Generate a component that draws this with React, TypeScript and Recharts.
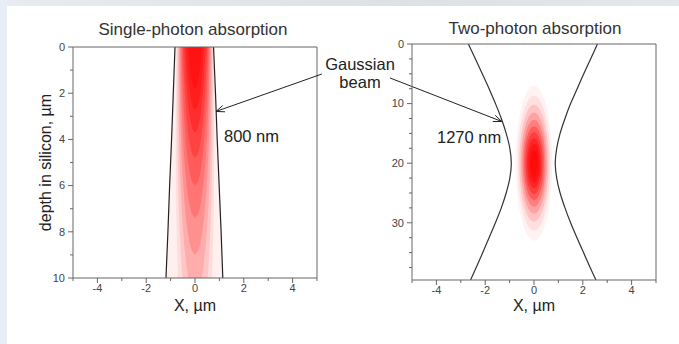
import React from 'react';
import { ComposedChart, XAxis, YAxis, Line, Area, ReferenceArea, ReferenceLine, Label } from 'recharts';

// ---- single-photon panel (800 nm) ----
const spaDepth = [0, 2, 4, 6, 8, 10];
const spaLeftEdge = [-0.82, -0.89, -0.96, -1.04, -1.11, -1.19];
const spaRightEdge = [0.76, 0.84, 0.91, 0.99, 1.07, 1.14];
// intensity contours: half-width at the surface and depth where the contour closes
const spaBandWidth = [0.76, 0.72, 0.68, 0.64, 0.6, 0.55, 0.5, 0.44, 0.37, 0.28];
const spaBandDepth = [16, 13, 10.8, 9, 7.4, 6, 4.8, 3.7, 2.7, 1.8];
const spaWidening = 0.05; // relative beam growth per µm of depth
const spaDepthTicks = [0, 1, 2, 3, 4, 5, 6, 7, 8, 9, 10];
const spaDepthLabels = [0, 2, 4, 6, 8, 10];

// ---- two-photon panel (1270 nm) ----
const tpaDepth = [0, 2.5, 5, 7.5, 10, 12.5, 15, 17.5, 20, 22.5, 25, 27.5, 30, 32.5, 35, 37.5, 39.6];
const tpaLeftEdge = [-2.69, -2.4, -2.12, -1.84, -1.58, -1.34, -1.14, -0.99, -0.93, -0.99, -1.14, -1.34, -1.58, -1.84, -2.1, -2.37, -2.6];
const tpaRightEdge = [2.6, 2.32, 2.04, 1.77, 1.5, 1.27, 1.07, 0.93, 0.87, 0.93, 1.07, 1.27, 1.5, 1.76, 2.03, 2.3, 2.54];
const spotCenterX = 0;
const spotCenterDepth = 20;
const spotHalfWidth = [0.75, 0.67, 0.6, 0.53, 0.47, 0.41, 0.35, 0.29, 0.23, 0.16];
const spotHalfDepth = [13, 11.3, 9.8, 8.5, 7.3, 6.2, 5.2, 4.2, 3.2, 2.2];
const tpaDepthTicks = [0, 2.5, 5, 7.5, 10, 12.5, 15, 17.5, 20, 22.5, 25, 27.5, 30, 32.5, 35, 37.5];
const tpaDepthLabels = [0, 10, 20, 30];

const xTicks = [-5, -4, -3, -2, -1, 0, 1, 2, 3, 4, 5];
const xLabels = [-4, -2, 0, 2, 4];

// arrows: from the "Gaussian beam" text to the beam edges
const spaArrow = [{ x: 5.2, y: 1.17 }, { x: 0.86, y: 2.79 }];
const tpaArrow = [{ x: -5.9, y: 5.7 }, { x: -1.32, y: 13.0 }];

const RED = '#ff0000';
const AXIS = '#666';
const spaOpacity = [0.08, 0.1, 0.13, 0.16, 0.19, 0.22, 0.26, 0.3, 0.34, 0.38];
const spotOpacity = [0.05, 0.08, 0.12, 0.17, 0.22, 0.28, 0.33, 0.38, 0.42, 0.46];
const FONT = 'Arial, "Liberation Sans", sans-serif';

const spaRows = spaDepth.map((z, i) => ({ z, left: spaLeftEdge[i], right: spaRightEdge[i] }));
const tpaRows = tpaDepth.map((z, i) => ({ z, left: tpaLeftEdge[i], right: tpaRightEdge[i] }));

const leftTick = (labels: number[]) => (p: any) => {
  const { x, y, payload } = p;
  const major = labels.includes(payload.value);
  const ax = x + 8;
  return (
    <g>
      <line x1={ax - (major ? 5 : 3)} x2={ax} y1={y} y2={y} stroke={AXIS} />
      {major && (
        <text x={x} y={y} dy="0.35em" textAnchor="end" fontSize={11} fill="#444">{payload.value}</text>
      )}
    </g>
  );
};

const bottomTick = (labels: number[]) => (p: any) => {
  const { x, y, payload } = p;
  const major = labels.includes(payload.value);
  const ay = y - 8;
  return (
    <g>
      <line x1={x} x2={x} y1={ay} y2={ay + (major ? 5 : 3)} stroke={AXIS} />
      {major && (
        <text x={x} y={ay + 14} textAnchor="middle" fontSize={11} fill="#444">{payload.value}</text>
      )}
    </g>
  );
};

// U-shaped contour hanging from the surface, widening with the beam
const uShape = (op: number, depth: number) => (p: any) => {
  const { x, y, width, height } = p;
  const cx = x + width / 2;
  const right: string[] = [];
  const left: string[] = [];
  for (let i = 0; i <= 40; i++) {
    const t = i / 40;
    const dx = (width / 2) * Math.sqrt(1 - t) * (1 + spaWidening * t * depth);
    right.push(`${cx + dx},${y + t * height}`);
    left.unshift(`${cx - dx},${y + t * height}`);
  }
  return <path d={`M${right.join(' L')} L${left.join(' L')} Z`} fill={RED} fillOpacity={op} clipPath={p.clipPath} />;
};

const ellipseShape = (op: number) => (p: any) => (
  <ellipse cx={p.x + p.width / 2} cy={p.y + p.height / 2} rx={p.width / 2} ry={p.height / 2} fill={RED} fillOpacity={op} />
);

const arrowShape = (p: any) => {
  const { x1, y1, x2, y2 } = p;
  const ang = Math.atan2(y2 - y1, x2 - x1);
  const L = 9;
  const s = 0.38;
  const a = `${x2 - L * Math.cos(ang - s)},${y2 - L * Math.sin(ang - s)}`;
  const b = `${x2 - L * Math.cos(ang + s)},${y2 - L * Math.sin(ang + s)}`;
  return (
    <g>
      <line x1={x1} y1={y1} x2={x2} y2={y2} stroke="#222" strokeWidth={1} />
      <path d={`M${a} L${x2},${y2} L${b}`} fill="none" stroke="#222" strokeWidth={1} />
    </g>
  );
};

const SinglePhoton = () => (
  <ComposedChart width={340} height={344} layout="vertical" data={spaRows} margin={{ top: 47, right: 23, bottom: 0, left: 0 }}>
    <XAxis type="number" dataKey="left" domain={[-5, 5]} allowDataOverflow ticks={xTicks} interval={0} height={66}
      tickSize={5} tickMargin={3} tickLine={false} tick={bottomTick(xLabels)} axisLine={{ stroke: AXIS }}>
      <Label value="X, µm" position="insideBottom" offset={33} fontSize={16} fill="#222" />
    </XAxis>
    <YAxis type="number" dataKey="z" domain={[0, 10]} allowDataOverflow ticks={spaDepthTicks} interval={0} width={73}
      tickSize={5} tickMargin={3} tickLine={false} tick={leftTick(spaDepthLabels)} axisLine={{ stroke: AXIS }}>
      <Label value="depth in silicon, µm" angle={-90} position="insideLeft" offset={45} fontSize={16} fill="#222" style={{ textAnchor: 'middle' }} />
    </YAxis>
    <Area dataKey={(d: any) => [d.left, d.right]} type="linear" fill={RED} fillOpacity={0.06} stroke="none" isAnimationActive={false} />
    {spaBandWidth.map((w, i) => (
      <ReferenceArea key={i} x1={-w} x2={w} y1={0} y2={spaBandDepth[i]} ifOverflow="hidden"
        shape={uShape(spaOpacity[i], spaBandDepth[i])} />
    ))}
    <Line dataKey="left" type="linear" stroke="#222" strokeWidth={1.2} dot={false} isAnimationActive={false} />
    <Line dataKey="right" type="linear" stroke="#222" strokeWidth={1.2} dot={false} isAnimationActive={false} />
    <ReferenceLine x={5} stroke={AXIS} />
    <ReferenceLine y={0} stroke={AXIS} />
    <ReferenceLine segment={spaArrow} ifOverflow="visible" shape={arrowShape} />
  </ComposedChart>
);

const TwoPhoton = () => (
  <ComposedChart width={339} height={344} layout="vertical" data={tpaRows} margin={{ top: 44, right: 23, bottom: 0, left: 0 }}>
    <XAxis type="number" dataKey="left" domain={[-5, 5]} allowDataOverflow ticks={xTicks} interval={0} height={64}
      tickSize={5} tickMargin={3} tickLine={false} tick={bottomTick(xLabels)} axisLine={{ stroke: AXIS }}>
      <Label value="X, µm" position="insideBottom" offset={33} fontSize={16} fill="#222" />
    </XAxis>
    <YAxis type="number" dataKey="z" domain={[0, 39.6]} allowDataOverflow ticks={tpaDepthTicks} interval={0} width={72}
      tickSize={5} tickMargin={3} tickLine={false} tick={leftTick(tpaDepthLabels)} axisLine={{ stroke: AXIS }} />
    {spotHalfWidth.map((w, i) => (
      <ReferenceArea key={i} x1={spotCenterX - w} x2={spotCenterX + w}
        y1={spotCenterDepth - spotHalfDepth[i]} y2={spotCenterDepth + spotHalfDepth[i]}
        ifOverflow="hidden" shape={ellipseShape(spotOpacity[i])} />
    ))}
    <Line dataKey="left" type="monotone" stroke="#333" strokeWidth={1.2} dot={false} isAnimationActive={false} />
    <Line dataKey="right" type="monotone" stroke="#333" strokeWidth={1.2} dot={false} isAnimationActive={false} />
    <ReferenceLine x={5} stroke={AXIS} />
    <ReferenceLine y={0} stroke={AXIS} />
    <ReferenceLine segment={tpaArrow} ifOverflow="visible" shape={arrowShape} />
  </ComposedChart>
);

export default function App() {
  return (
    <div style={{ position: 'absolute', left: 0, top: 0, width: 679, height: 344, background: '#fff', fontFamily: FONT, overflow: 'hidden' }}>
      <div style={{ position: 'absolute', left: 0, top: 0, width: 679, height: 6, background: 'linear-gradient(90deg, #e8ecf1, #dde1e6 60%, #e4e7eb)' }} />
      <div style={{ position: 'absolute', left: 0, top: 0, width: 7, height: 344, background: '#e7eef7' }} />
      <div style={{ position: 'absolute', left: 0, top: 0 }}>
        <SinglePhoton />
      </div>
      <div style={{ position: 'absolute', left: 340, top: 0 }}>
        <TwoPhoton />
      </div>
      <svg width={679} height={344} style={{ position: 'absolute', left: 0, top: 0, pointerEvents: 'none' }}>
        <text x={193} y={35} textAnchor="middle" fontSize={17} fill="#333">Single-photon absorption</text>
        <text x={535} y={34} textAnchor="middle" fontSize={17} fill="#333">Two-photon absorption</text>
        <text x={360} y={70} textAnchor="middle" fontSize={16.5} fill="#222">Gaussian</text>
        <text x={360} y={88} textAnchor="middle" fontSize={16.5} fill="#222">beam</text>
        <text x={224} y={142} fontSize={16.5} fill="#222">800 nm</text>
        <text x={437} y={143} fontSize={16.5} fill="#222">1270 nm</text>
      </svg>
    </div>
  );
}
